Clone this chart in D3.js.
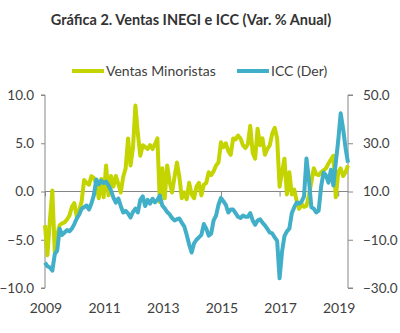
<!DOCTYPE html>
<html><head><meta charset="utf-8">
<script src="https://cdn.jsdelivr.net/npm/d3@7"></script>
<style>body{margin:0;background:#fff}svg{display:block}</style>
</head><body>
<svg id="c" width="400" height="333"></svg>
<script>
const startYear = 2009;
const ventas = [-3.5,-6.6,-3.0,0.1,-6.3,-4.5,-3.5,-3.3,-3.2,-2.9,-2.5,-1.6,
 -1.2,-2.6,-2.0,-1.0,1.2,0.9,0.7,1.6,1.4,0.8,-0.7,1.3,
 -0.6,2.7,-0.4,1.6,0.5,1.6,0.8,-0.1,1.5,2.4,5.5,2.7,
 4.5,8.9,6.0,3.7,4.8,4.6,4.4,4.8,4.4,4.9,5.5,-1.1,
 2.4,-0.7,2.7,1.0,-0.1,1.5,3.0,1.5,-0.7,-0.1,-0.8,0.9,
 -0.3,-0.7,0.5,0.9,-0.4,0.7,0.9,2.0,1.7,2.1,2.7,3.0,
 5.1,4.6,5.0,4.2,3.8,5.5,5.4,5.8,5.5,4.8,4.5,4.9,
 6.8,4.0,3.4,6.5,4.8,5.5,3.8,4.4,4.8,6.0,6.6,5.5,
 0.5,2.0,3.4,-0.3,2.0,-0.3,0.2,-1.0,-1.8,-1.3,-1.6,-1.5,
 -0.4,1.0,2.4,1.8,1.7,2.0,2.2,2.4,2.9,3.3,3.7,-0.6,
 2.0,2.4,1.6,2.0,2.7];
const icc = [-19.5,-21.0,-21.5,-22.8,-16.0,-14.5,-5.4,-8.0,-7.0,-6.0,-6.5,-5.4,
 -3.5,-1.2,0.5,2.9,3.5,4.2,2.5,5.0,8.5,15.0,13.0,14.5,
 13.5,14.1,12.5,10.5,7.5,5.4,7.1,4.0,1.3,2.0,0.9,-0.8,
 1.5,2.9,1.3,6.5,8.0,4.0,6.5,5.0,7.0,5.5,6.5,8.3,
 4.2,3.0,1.5,0.5,-1.0,-2.0,-1.5,-1.2,-3.0,-4.5,-8.0,-12.0,
 -15.3,-11.5,-10.0,-9.0,-8.0,-3.5,-5.4,-8.3,-7.5,-2.0,0.0,4.5,
 7.3,6.0,4.5,1.3,2.5,2.5,1.0,-0.5,-1.0,0.0,-0.5,-0.5,
 1.0,-2.0,-3.8,-2.0,-1.5,-2.9,-4.0,-5.5,-7.0,-7.4,-9.0,-10.5,
 -26.0,-15.0,-8.5,-6.5,-5.4,1.0,3.5,5.4,5.0,5.8,8.0,23.7,
 15.0,3.5,2.9,1.3,2.1,12.0,17.9,16.6,13.7,19.0,12.5,22.0,
 31.0,42.4,36.0,28.0,22.0];
const leftTicks = [10, 5, 0, -5, -10];
const rightTicks = [50, 30, 10, -10, -30];
const yearTicks = [2009, 2011, 2013, 2015, 2017, 2019];
const seriesNames = ["Ventas Minoristas", "ICC (Der)"];
const title = "Gráfica 2. Ventas INEGI e ICC (Var. % Anual)";

const green = "#c3d400", blue = "#41afc8", axisCol = "#868686", txt = "#404040";
const font = "Lato, 'Open Sans', sans-serif";
const svg = d3.select("#c");
const n = ventas.length;
const L = 45, R = 348, T = 95, B = 288;
const x = d3.scaleLinear().domain([0, n - 1]).range([L, R]);
const yL = d3.scaleLinear().domain([-10, 10]).range([B, T]);
const yR = d3.scaleLinear().domain([-30, 50]).range([B, T]);

svg.append("text").attr("x", 191).attr("y", 25).attr("text-anchor", "middle")
  .attr("font-family", font).attr("font-weight", "bold").attr("font-size", 14.5)
  .attr("fill", "#333").text(title);

// legend
const lg = svg.append("g").attr("font-family", font).attr("font-size", 14).attr("fill", txt);
[[72, green, seriesNames[0]], [237, blue, seriesNames[1]]].forEach(([lx, c, t]) => {
  lg.append("line").attr("x1", lx).attr("x2", lx + 32).attr("y1", 71).attr("y2", 71)
    .attr("stroke", c).attr("stroke-width", 4);
  lg.append("text").attr("x", lx + 34).attr("y", 76).text(t);
});

// axes
const ax = svg.append("g").attr("transform", `translate(${L},0)`)
  .call(d3.axisLeft(yL).tickValues(leftTicks).tickFormat(d3.format(".1f")).tickSize(4).tickPadding(7));
const ax2 = svg.append("g").attr("transform", `translate(${R},0)`)
  .call(d3.axisRight(yR).tickValues(rightTicks).tickFormat(d3.format(".1f")).tickSize(5).tickPadding(10));
const xTickVal = yearTicks.map(y => (y - startYear) * 12);
const ax3 = svg.append("g").attr("transform", `translate(0,${yL(0)})`)
  .call(d3.axisBottom(x).tickValues(xTickVal).tickFormat("").tickSize(5));
[ax, ax2, ax3].forEach(g => {
  g.select(".domain").attr("stroke", axisCol);
  g.selectAll(".tick line").attr("stroke", axisCol);
  g.selectAll("text").attr("font-family", font).attr("font-size", 13.5).attr("fill", txt);
});
ax3.select(".domain").attr("d", `M${L},0H${R}`);
ax.select(".domain").attr("d", `M-4,${T}H0V${B}H-4`);
ax2.select(".domain").attr("d", `M5,${T}H0V${B}H5`);

// x labels
svg.append("g").selectAll("text").data(yearTicks).join("text")
  .attr("x", d => x((d - startYear) * 12) + 1).attr("y", 313).attr("text-anchor", "middle")
  .attr("font-family", font).attr("font-size", 14).attr("fill", txt).text(d => d);

const lineL = d3.line().x((d, i) => x(i)).y(d => yL(d));
const lineR = d3.line().x((d, i) => x(i)).y(d => yR(d));
svg.append("path").datum(ventas).attr("d", lineL).attr("fill", "none")
  .attr("stroke", green).attr("stroke-width", 4).attr("stroke-linejoin", "round");
svg.append("path").datum(icc).attr("d", lineR).attr("fill", "none")
  .attr("stroke", blue).attr("stroke-width", 4).attr("stroke-linejoin", "round");
</script>
</body></html>
